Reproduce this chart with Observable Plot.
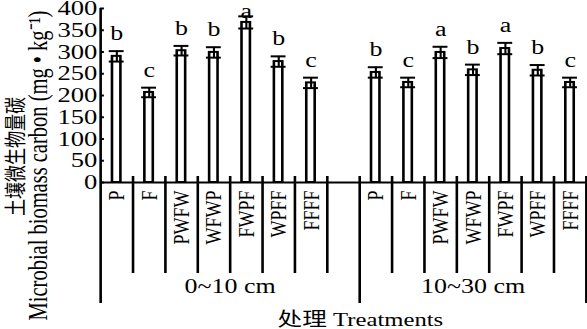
<!DOCTYPE html>
<html><head><meta charset="utf-8">
<script src="https://cdn.jsdelivr.net/npm/d3@7"></script>
<script src="https://cdn.jsdelivr.net/npm/@observablehq/plot@0.6"></script>
<style>
html,body{margin:0;padding:0;background:#fff;}
#chart{width:587px;height:329px;overflow:hidden;}
#chart svg{transform:scaleX(1.2987);transform-origin:0 0;display:block;max-width:none;}
#chart svg text{font-family:'Liberation Serif','Times New Roman','Noto Sans CJK SC',serif;}
</style></head><body><div id="chart"></div>
<script>
const depths = ["0~10 cm", "10~30 cm"];
const treatments = ["P", "F", "PWFW", "WFWP", "FWPF", "WPFF", "FFFF"];
const mean0to10 = [290, 207, 303, 299, 368, 278, 229];
const se0to10 = [12, 11, 11, 12, 14, 12, 12];
const letters0to10 = ["b", "c", "b", "b", "a", "b", "c"];
const mean10to30 = [253, 230, 299, 259, 308, 258, 230];
const se10to30 = [12, 11, 13, 12, 13, 12, 11];
const letters10to30 = ["b", "c", "a", "b", "a", "b", "c"];
const yTicks = [0, 50, 100, 150, 200, 250, 300, 350, 400];
const yTitleCn = "土壤微生物量碳";
const yTitleEn = "Microbial biomass carbon (mg • kg⁻¹)";
const xTitle = "处理 Treatments";

// group 1: 7 treatment cells + 1 empty cell; group 2: 7 treatment cells
const n = treatments.length;
const groupStart = [0, n + 1];
const groupEnd = [n + 1, 2 * n + 1];
const rows = [];
[[mean0to10, se0to10, letters0to10], [mean10to30, se10to30, letters10to30]].forEach(([m, s, l], g) => {
  treatments.forEach((t, i) => rows.push({depth: depths[g], treatment: t, slot: groupStart[g] + i, mean: m[i], se: s[i], letter: l[i]}));
});
const groupBounds = [groupStart[1], groupEnd[1]];
const dividers = rows.map(r => r.slot + 1).filter(v => !groupBounds.includes(v));

const W = 452, H = 329;
const serif = "'Liberation Serif','Times New Roman','Noto Sans CJK SC',serif";
const cjk = "'Noto Sans CJK SC','Liberation Serif',serif";
const barHalf = 0.13, capHalf = 0.23;

const chart = Plot.plot({
  width: W, height: H,
  marginTop: 8, marginBottom: 147, marginLeft: 77, marginRight: 1,
  x: {domain: [0, 2 * n + 1], axis: null},
  y: {domain: [0, 400], axis: null},
  style: {fontFamily: serif, background: "white", color: "black"},
  marks: [
    Plot.rectY(rows, {x1: d => d.slot + 0.5 - barHalf, x2: d => d.slot + 0.5 + barHalf, y: "mean", fill: "white", stroke: "black", strokeWidth: 2}),
    Plot.ruleX(rows, {x: d => d.slot + 0.5, y1: d => d.mean - d.se, y2: d => d.mean + d.se, stroke: "black", strokeWidth: 1.6}),
    Plot.ruleY(rows, {y: d => d.mean + d.se, x1: d => d.slot + 0.5 - capHalf, x2: d => d.slot + 0.5 + capHalf, stroke: "black", strokeWidth: 2}),
    Plot.ruleY(rows, {y: d => d.mean - d.se, x1: d => d.slot + 0.5 - capHalf, x2: d => d.slot + 0.5 + capHalf, stroke: "black", strokeWidth: 2}),
    Plot.text(rows, {x: d => d.slot + 0.5, y: d => Math.min(d.mean + d.se + 40, 394), text: "letter", fontSize: 20, fontFamily: serif, fill: "black"}),
    // axes
    Plot.ruleY([0], {stroke: "black", strokeWidth: 2}),
    Plot.ruleX([groupStart[0]], {stroke: "black", strokeWidth: 2, insetBottom: -121}),
    Plot.ruleX(groupBounds, {stroke: "black", strokeWidth: 2, insetTop: 168, insetBottom: -121}),
    Plot.ruleX(dividers, {stroke: "black", strokeWidth: 2, insetTop: 168, insetBottom: -91}),
    Plot.tickY(yTicks, {y: d => d, stroke: "black", strokeWidth: 2, insetRight: 371}),
    Plot.text(yTicks, {y: d => d, text: d => String(d), frameAnchor: "left", textAnchor: "end", dx: -2.5, fontSize: 20.5, fontFamily: serif, fill: "black"}),
    Plot.text(rows, {x: d => d.slot + 0.5, text: "treatment", frameAnchor: "bottom", rotate: -90, textAnchor: "end", lineAnchor: "middle", dy: 8, fontSize: 18, fontFamily: serif, fill: "black"}),
    Plot.text(depths, {x: (d, i) => (groupStart[i] + groupEnd[i]) / 2, text: d => d, frameAnchor: "bottom", dy: 110, fontSize: 20, fontFamily: serif, fill: "black"}),
    Plot.text([xTitle], {text: d => d, frameAnchor: "bottom", textAnchor: "middle", dx: 13, dy: 143, fontSize: 19, fontFamily: serif, fill: "black"}),
    Plot.text([yTitleCn], {text: d => d, frameAnchor: "left", textAnchor: "middle", lineAnchor: "middle", rotate: -90, dx: -65.5, dy: 61, fontSize: 17, fontFamily: cjk, fill: "black"}),
    Plot.text([yTitleEn], {text: d => d, frameAnchor: "left", textAnchor: "middle", lineAnchor: "middle", rotate: -90, dx: -48, dy: 70, fontSize: 20.5, fontFamily: serif, fill: "black"})
  ]
});
document.getElementById("chart").appendChild(chart);
</script></body></html>
